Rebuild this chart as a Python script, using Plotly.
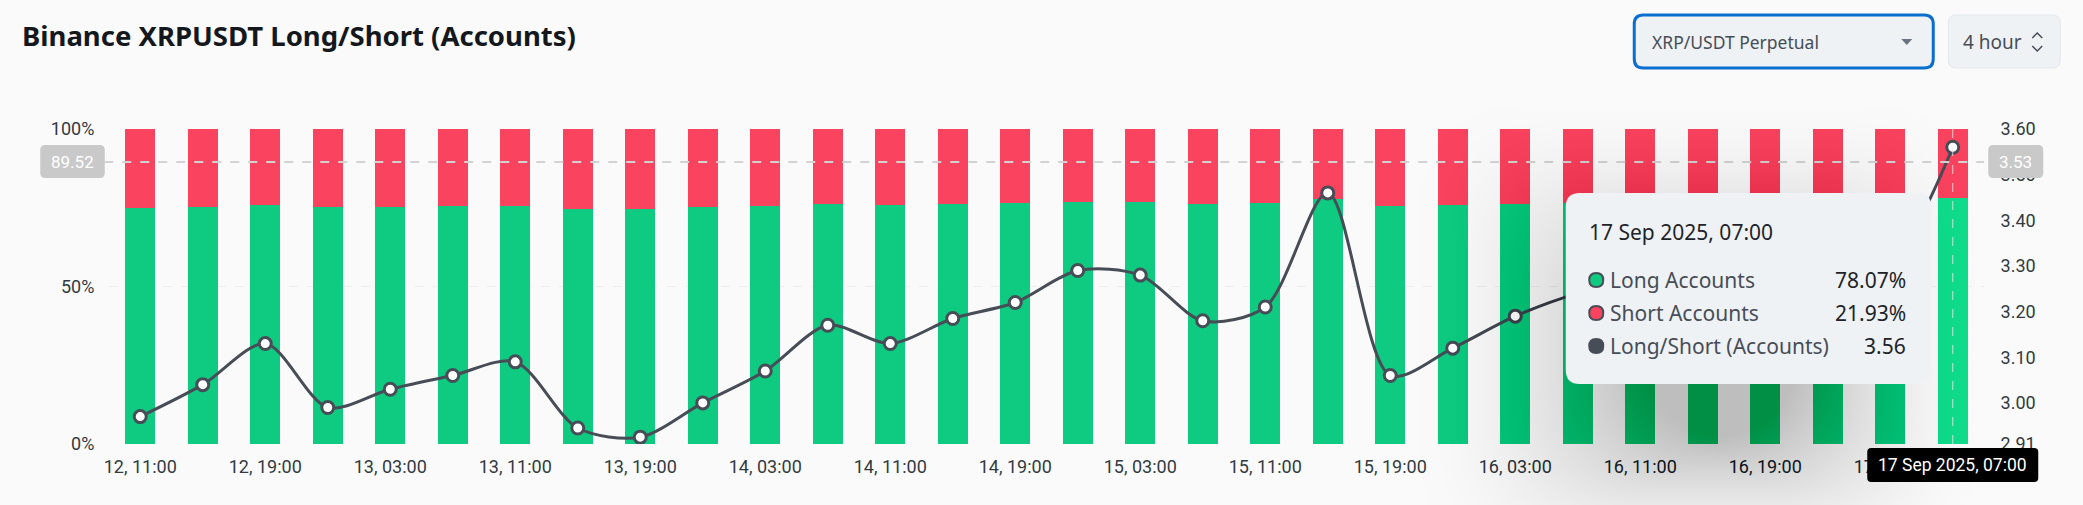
import plotly.graph_objects as go

W, H = 2083, 505
LEFT, RIGHT, TOP, BOTTOM = 108.75, 1983.75, 129, 444  # plot box in page pixels

GREEN = "#0ECB81"
RED = "#FA445F"
DARK = "#474D57"
PANEL = "#EFF2F5"

# 4 hour bars from 12 Sep 11:00 to 17 Sep 07:00
times = [
    "12, 11:00", "12, 15:00", "12, 19:00", "12, 23:00", "13, 03:00", "13, 07:00",
    "13, 11:00", "13, 15:00", "13, 19:00", "13, 23:00", "14, 03:00", "14, 07:00",
    "14, 11:00", "14, 15:00", "14, 19:00", "14, 23:00", "15, 03:00", "15, 07:00",
    "15, 11:00", "15, 15:00", "15, 19:00", "15, 23:00", "16, 03:00", "16, 07:00",
    "16, 11:00", "16, 15:00", "16, 19:00", "16, 23:00", "17, 03:00", "17, 07:00",
]
long_pct = [
    74.8, 75.3, 75.9, 75.1, 75.2, 75.4, 75.7, 74.7, 74.5, 75.1,
    75.6, 76.1, 75.9, 76.2, 76.4, 76.7, 76.7, 76.2, 76.4, 77.7,
    75.4, 75.8, 76.3, 76.4, 76.6, 76.8, 76.5, 76.7, 76.8, 78.07,
]
short_pct = [
    25.2, 24.7, 24.1, 24.9, 24.8, 24.6, 24.3, 25.3, 25.5, 24.9,
    24.4, 23.9, 24.1, 23.8, 23.6, 23.3, 23.3, 23.8, 23.6, 22.3,
    24.6, 24.2, 23.7, 23.6, 23.4, 23.2, 23.5, 23.3, 23.2, 21.93,
]
ratio = [
    2.97, 3.04, 3.13, 2.99, 3.03, 3.06, 3.09, 2.945, 2.925, 3.00,
    3.07, 3.17, 3.13, 3.185, 3.22, 3.29, 3.28, 3.18, 3.21, 3.46,
    3.06, 3.12, 3.19, 3.24, 3.27, 3.30, 3.25, 3.28, 3.31, 3.56,
]


def px_x(x: float) -> float:
    return (x - LEFT) / (RIGHT - LEFT)


def px_y(y: float) -> float:
    return (BOTTOM - y) / (BOTTOM - TOP)


def rounded_box(x0: float, y0: float, x1: float, y1: float, r: float, fill: str, line: str = "rgba(0,0,0,0)", width: float = 0) -> dict:
    """Rounded rectangle given in page pixels, as a layout shape."""
    path = (
        f"M {px_x(x0 + r)} {px_y(y0)} L {px_x(x1 - r)} {px_y(y0)} "
        f"Q {px_x(x1)} {px_y(y0)} {px_x(x1)} {px_y(y0 + r)} L {px_x(x1)} {px_y(y1 - r)} "
        f"Q {px_x(x1)} {px_y(y1)} {px_x(x1 - r)} {px_y(y1)} L {px_x(x0 + r)} {px_y(y1)} "
        f"Q {px_x(x0)} {px_y(y1)} {px_x(x0)} {px_y(y1 - r)} L {px_x(x0)} {px_y(y0 + r)} "
        f"Q {px_x(x0)} {px_y(y0)} {px_x(x0 + r)} {px_y(y0)} Z"
    )
    return dict(type="path", xref="paper", yref="paper", path=path, fillcolor=fill, line=dict(color=line, width=width), layer="above")


def polyline(points: list[tuple[float, float]], color: str, width: float = 0, fill: str = "rgba(0,0,0,0)") -> dict:
    path = "M " + " L ".join(f"{px_x(x)} {px_y(y)}" for x, y in points)
    return dict(type="path", xref="paper", yref="paper", path=path, fillcolor=fill, line=dict(color=color, width=width), layer="above")


def label(x: float, y: float, text: str, size: float, color: str = "#1E2329", anchor: str = "left", family: str = "Noto Sans") -> dict:
    return dict(
        xref="paper", yref="paper", x=px_x(x), y=px_y(y), text=text, showarrow=False,
        xanchor=anchor, yanchor="middle", font=dict(size=size, color=color, family=family),
        borderpad=0,
    )


# colour per bar, the hovered one is brighter
bar_colors = [GREEN] * 29 + ["#10DC8C"]

fig = go.Figure()
fig.add_bar(x=times, y=long_pct, name="Long Accounts", marker=dict(color=bar_colors, line_width=0))
fig.add_bar(x=times, y=short_pct, name="Short Accounts", marker=dict(color=RED, line_width=0))
fig.add_scatter(
    x=times, y=ratio, name="Long/Short (Accounts)", yaxis="y2", mode="lines+markers",
    line=dict(color=DARK, width=3, shape="spline", smoothing=0.85),
    marker=dict(size=12, color="white", line=dict(color=DARK, width=3)),
)

shapes = [
    # crosshair
    dict(type="line", xref="paper", yref="y", x0=px_x(104), x1=1, y0=89.52, y1=89.52, line=dict(color="#D2D2D2", width=2, dash="dash"), layer="above"),
    dict(type="line", xref="x", yref="paper", x0=29, x1=29, y0=0, y1=1, line=dict(color="rgba(235,235,235,0.8)", width=1, dash="dash"), layer="above"),
]

# soft shadow of the tooltip, leaning left and down
for i in range(60):
    t = (i / 60) ** 0.6
    shapes.append(rounded_box(1420 + t * 220, 105 + t * 185, 1975 - t * 175, 560 - t * 120, 110, "rgba(0,0,0,0.0045)"))

shapes += [
    rounded_box(40, 145, 104.5, 178, 5, "#C9C9C9"),
    rounded_box(1988, 145, 2043, 178, 5, "#C9C9C9"),
    rounded_box(1565.5, 193, 1931, 384, 14, PANEL),
    rounded_box(1867, 448, 2038, 482, 4, "#000000"),
    # controls in the header
    rounded_box(1634, 15, 1933, 68, 9, PANEL, "#0B6FD0", 3),
    rounded_box(1948, 15, 2060, 68, 8, PANEL, "#E3E7EB", 1),
    polyline([(1901, 39), (1912, 39), (1906.5, 45), (1901, 39)], "#6A7380", 0, "#6A7380"),
    polyline([(2032, 38), (2037, 33), (2042, 38)], "#474D57", 1.5),
    polyline([(2032, 46), (2037, 51), (2042, 46)], "#474D57", 1.5),
]

# legend dots of the tooltip
for y, color in [(280, GREEN), (313, RED), (346, DARK)]:
    shapes.append(rounded_box(1589, y - 7, 1603, y + 7, 7, color, DARK, 2))

annotations = [
    label(20.5, 36, "<b>Binance XRPUSDT Long/Short (Accounts)</b>", 27.5, "#14181D"),
    label(1651, 42, "XRP/USDT Perpetual", 17.5, DARK),
    label(1962, 42, "4 hour", 19, DARK),
    label(72, 161.5, "89.52", 17, "white", "center", "Roboto"),
    label(2015.5, 161.5, "3.53", 17, "white", "center", "Roboto"),
    label(1588, 232, "17 Sep 2025, 07:00", 21),
    label(1609, 280, "Long Accounts", 21, DARK),
    label(1609, 313, "Short Accounts", 21, DARK),
    label(1609, 346, "Long/Short (Accounts)", 21, DARK),
    label(1907, 280, "78.07%", 21, "#1E2329", "right"),
    label(1907, 313, "21.93%", 21, "#1E2329", "right"),
    label(1907, 346, "3.56", 21, "#1E2329", "right"),
    label(1952.5, 465, "17 Sep 2025, 07:00", 17.5, "white", "center", "Roboto"),
]

fig.update_layout(
    width=W,
    height=H,
    margin=dict(l=LEFT, r=W - RIGHT, t=TOP, b=H - BOTTOM, pad=0),
    paper_bgcolor="#FAFAFA",
    plot_bgcolor="#FAFAFA",
    barmode="stack",
    bargap=0.52,
    showlegend=False,
    font=dict(family="Roboto", size=18, color="#333A42"),
    xaxis=dict(
        type="category", range=[-0.5, 29.5], tickmode="array", tickvals=times[::2],
        showgrid=False, zeroline=False, showline=False, ticks="outside", ticklen=6, tickcolor="rgba(0,0,0,0)",
    ),
    yaxis=dict(
        range=[0, 100], tickvals=[0, 50, 100], ticktext=["0%", "50%", "100%"],
        gridcolor="#EDEDED", griddash="dash", gridwidth=1, zeroline=False, showline=False,
        ticks="outside", ticklen=10, tickcolor="rgba(0,0,0,0)",
    ),
    yaxis2=dict(
        overlaying="y", side="right", range=[2.91, 3.6],
        tickvals=[2.91, 3.0, 3.1, 3.2, 3.3, 3.4, 3.5, 3.6], ticktext=["2.91", "3.00", "3.10", "3.20", "3.30", "3.40", "3.50", "3.60"],
        showgrid=False, zeroline=False, showline=False, ticks="outside", ticklen=12, tickcolor="rgba(0,0,0,0)",
    ),
    shapes=shapes,
    annotations=annotations,
)

# the page margin would push the figure off the window
fig.write_html(
    "out.html",
    config={"displayModeBar": False},
    post_script="document.body.style.margin='0';document.body.style.overflow='hidden';",
)
